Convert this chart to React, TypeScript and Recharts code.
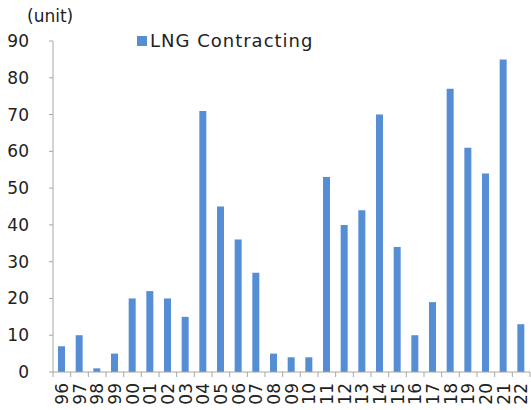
import { BarChart, Bar, XAxis, YAxis } from 'recharts'

const years = [
  '96', '97', '98', '99', '00', '01', '02', '03', '04', '05', '06', '07', '08', '09',
  '10', '11', '12', '13', '14', '15', '16', '17', '18', '19', '20', '21', '22',
]
const contracting = [7, 10, 1, 5, 20, 22, 20, 15, 71, 45, 36, 27, 5, 4, 4, 53, 40, 44, 70, 34, 10, 19, 77, 61, 54, 85, 13]
const yTicks = [0, 10, 20, 30, 40, 50, 60, 70, 80, 90]

const W = 531
const H = 410
const LEFT = 53
const RIGHT = 1
const FONT = '"DejaVu Sans", sans-serif'
const AXIS = '#a6a6a6'

const band = (W - LEFT - RIGHT) / years.length

// tick marks sit on the category boundaries, labels read bottom-to-top
function YearTick({ x, y, payload }: any) {
  return (
    <g>
      <line x1={x - band / 2} x2={x - band / 2} y1={y - 8} y2={y - 3} stroke={AXIS} />
      {payload.index === years.length - 1 && (
        <line x1={x + band / 2} x2={x + band / 2} y1={y - 8} y2={y - 3} stroke={AXIS} />
      )}
      <text
        x={0}
        y={0}
        transform={`translate(${x},${y + 3}) rotate(-90)`}
        textAnchor="end"
        dominantBaseline="central"
        fontSize={17}
        fill="#222"
        fontFamily={FONT}
      >
        {payload.value}
      </text>
    </g>
  )
}

export default function App() {
  const data = years.map((year, i) => ({ year, value: contracting[i] }))

  return (
    <div style={{ position: 'absolute', left: 0, top: 0, width: W, height: H, background: '#fff' }}>
      <div
        style={{
          position: 'absolute',
          left: 27,
          top: 6,
          fontFamily: FONT,
          fontSize: 17,
          color: '#222',
        }}
      >
        (unit)
      </div>
      <div
        style={{
          position: 'absolute',
          left: 137,
          top: 30,
          display: 'flex',
          alignItems: 'center',
          fontFamily: FONT,
          fontSize: 18,
          letterSpacing: 1,
          color: '#222',
          zIndex: 2,
        }}
      >
        <span style={{ width: 10, height: 10, background: '#558ed5', marginRight: 3 }} />
        LNG Contracting
      </div>
      <BarChart width={W} height={H} data={data} margin={{ top: 41, right: RIGHT, bottom: 0, left: 0 }} barCategoryGap={0}>
        <XAxis
          dataKey="year"
          height={38}
          interval={0}
          tickLine={false}
          axisLine={{ stroke: AXIS }}
          tick={<YearTick />}
        />
        <YAxis
          width={LEFT}
          domain={[0, 90]}
          ticks={yTicks}
          interval={0}
          tickSize={4}
          tickLine={{ stroke: AXIS }}
          axisLine={{ stroke: AXIS }}
          tickMargin={20}
          tick={{ fill: '#222', fontSize: 17, fontFamily: FONT }}
        />
        <Bar dataKey="value" fill="#558ed5" barSize={7} isAnimationActive={false} />
      </BarChart>
    </div>
  )
}
